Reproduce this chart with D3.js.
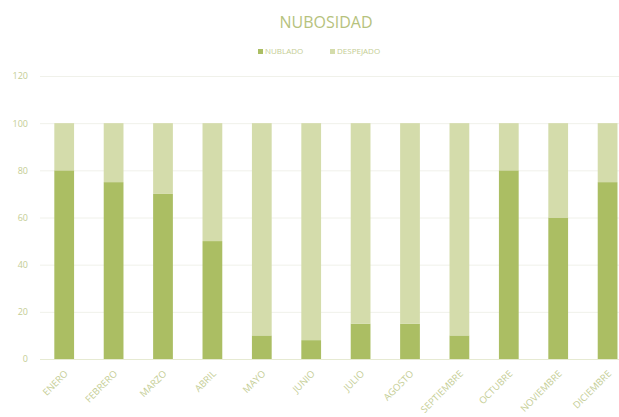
<!DOCTYPE html>
<html>
<head>
<meta charset="utf-8">
<script src="https://cdn.jsdelivr.net/npm/d3@7"></script>
<style>
body { margin: 0; background: #fff; }
text { font-family: "Open Sans", "Noto Sans", sans-serif; }
</style>
</head>
<body>
<svg width="619" height="417"></svg>
<script>
// Data
var meses = ["ENERO", "FEBRERO", "MARZO", "ABRIL", "MAYO", "JUNIO", "JULIO",
             "AGOSTO", "SEPTIEMBRE", "OCTUBRE", "NOVIEMBRE", "DICIEMBRE"];
var nublado = [80, 75, 70, 50, 10, 8, 15, 15, 10, 80, 60, 75];
var despejado = [20, 25, 30, 50, 90, 92, 85, 85, 90, 20, 40, 25];
var series = ["NUBLADO", "DESPEJADO"];
var yTicks = [0, 20, 40, 60, 80, 100, 120];

var colors = {"NUBLADO": "#abbe63", "DESPEJADO": "#d4dcab"};
var textColor = "#c4cd94";

var svg = d3.select("svg");

// the plot runs past the right edge, like the original screenshot
var x = d3.scaleBand().domain(meses).range([39.5, 632.3]).paddingInner(0.6).paddingOuter(0.3);
var y = d3.scaleLinear().domain([0, 120]).range([359, 76]);

var rows = meses.map(function(m, i) {
	return {mes: m, NUBLADO: nublado[i], DESPEJADO: despejado[i]};
});
var stacked = d3.stack().keys(series)(rows);

// Gridlines
svg.append("g")
	.selectAll("line")
	.data(yTicks)
	.enter()
	.append("line")
	.attr("x1", 40)
	.attr("x2", 619)
	.attr("y1", function(d) { return y(d) + 0.5; })
	.attr("y2", function(d) { return y(d) + 0.5; })
	.attr("stroke", function(d) { return d == 0 ? "#e6ead2" : "#f0f1ea"; })
	.attr("stroke-width", 1);

// Bars
svg.append("g")
	.selectAll("g")
	.data(stacked)
	.enter()
	.append("g")
	.attr("fill", function(d) { return colors[d.key]; })
	.selectAll("rect")
	.data(function(d) { return d; })
	.enter()
	.append("rect")
	.attr("x", function(d) { return x(d.data.mes); })
	.attr("width", x.bandwidth())
	.attr("y", function(d) { return y(d[1]); })
	.attr("height", function(d) { return y(d[0]) - y(d[1]); });

// Y axis labels
var yAxis = svg.append("g")
	.attr("transform", "translate(28,0)")
	.call(d3.axisLeft(y).tickValues(yTicks).tickSize(0).tickPadding(0));
yAxis.select(".domain").remove();
yAxis.selectAll("text")
	.attr("fill", textColor)
	.attr("font-size", 9)
	.attr("font-family", "Open Sans, sans-serif");

// X axis labels, rotated
var xAxis = svg.append("g")
	.attr("transform", "translate(0,372)")
	.call(d3.axisBottom(x).tickSize(0).tickPadding(0));
xAxis.select(".domain").remove();
xAxis.selectAll("text")
	.attr("fill", textColor)
	.attr("font-size", 9.5)
	.attr("font-family", "Open Sans, sans-serif")
	.attr("text-anchor", "end")
	.attr("dy", "0.35em")
	.attr("transform", "translate(2,0) rotate(-45)");

// Title
svg.append("text")
	.attr("x", 326)
	.attr("y", 28)
	.attr("text-anchor", "middle")
	.attr("fill", "#b6c27d")
	.attr("font-size", 16)
	.text("NUBOSIDAD");

// Legend
var legend = svg.append("g")
	.selectAll("g")
	.data(series)
	.enter()
	.append("g")
	.attr("transform", function(d, i) { return "translate(" + [258, 330][i] + ",53)"; });

legend.append("rect")
	.attr("y", -4)
	.attr("width", 5)
	.attr("height", 5)
	.attr("fill", function(d) { return colors[d]; });

legend.append("text")
	.attr("x", 7)
	.attr("y", 1)
	.attr("dy", "0.05em")
	.attr("fill", textColor)
	.attr("font-size", 8)
	.text(function(d) { return d; });
</script>
</body>
</html>
